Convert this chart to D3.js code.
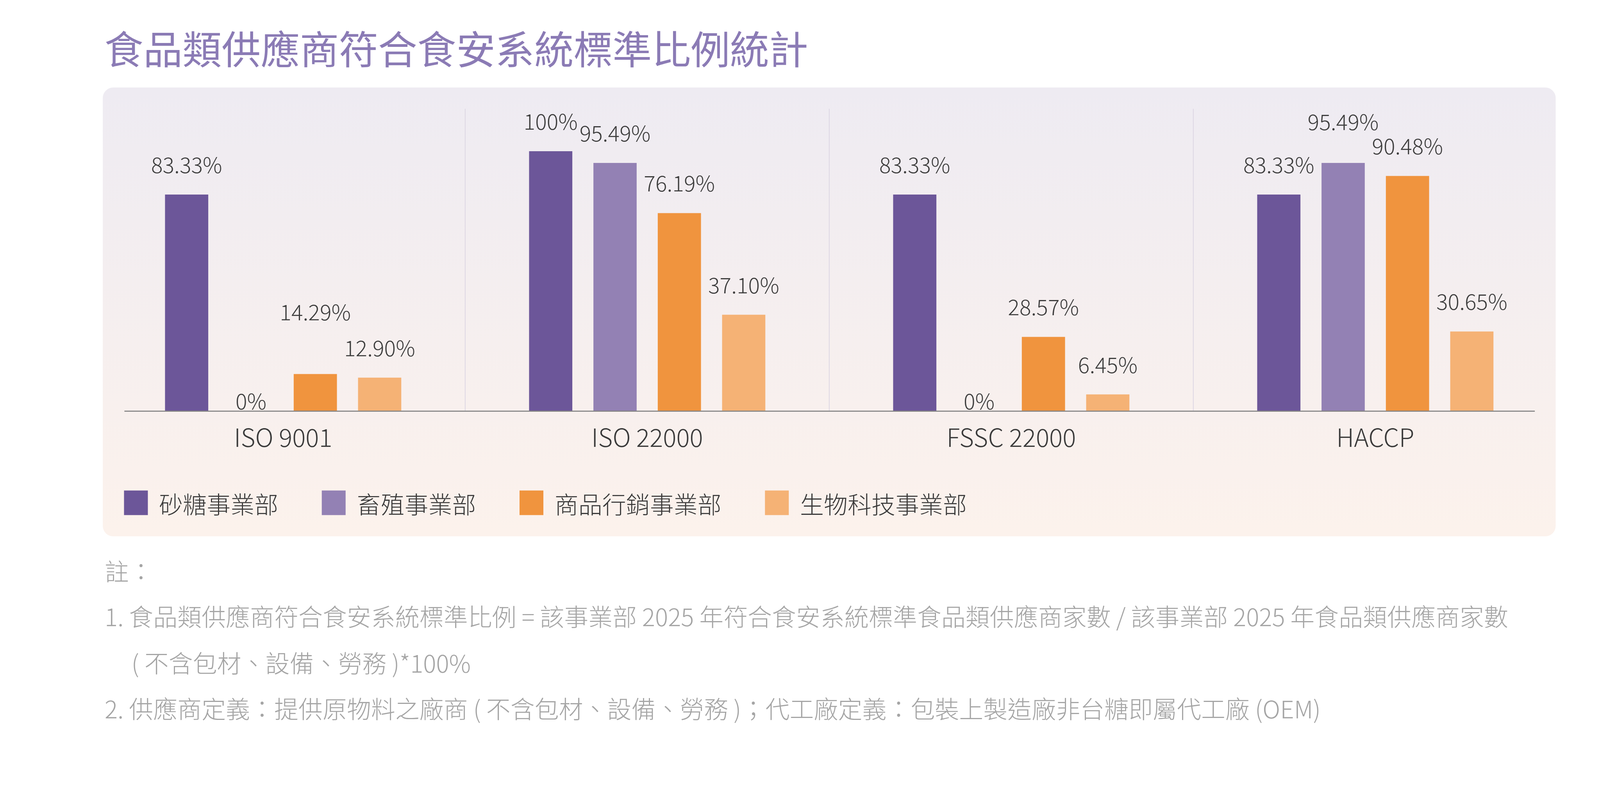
<!DOCTYPE html>
<html><head><meta charset="utf-8">
<script src="https://cdn.jsdelivr.net/npm/d3@7/dist/d3.min.js"></script>
<style>
html,body{margin:0;padding:0;background:#fff;width:100%;height:100%;overflow:hidden;}
svg{display:block;width:100vw;height:100vh;}
</style></head>
<body>
<script>
// ---- data ----
const categories = ["ISO 9001", "ISO 22000", "FSSC 22000", "HACCP"];
const seriesNames = ["砂糖事業部", "畜殖事業部", "商品行銷事業部", "生物科技事業部"];
const sugarValues = [83.33, 100, 83.33, 83.33];
const livestockValues = [0, 95.49, 0, 95.49];
const marketingValues = [14.29, 76.19, 28.57, 90.48];
const biotechValues = [12.90, 37.10, 6.45, 30.65];
const valueLabels = [
  ["83.33%", "100%", "83.33%", "83.33%"],
  ["0%", "95.49%", "0%", "95.49%"],
  ["14.29%", "76.19%", "28.57%", "90.48%"],
  ["12.90%", "37.10%", "6.45%", "30.65%"]
];
const titleText = "食品類供應商符合食安系統標準比例統計";
const noteLines = [
  "註：",
  "1. 食品類供應商符合食安系統標準比例 = 該事業部 2025 年符合食安系統標準食品類供應商家數 / 該事業部 2025 年食品類供應商家數",
  "( 不含包材、設備、勞務 )*100%",
  "2. 供應商定義：提供原物料之廠商 ( 不含包材、設備、勞務 )；代工廠定義：包裝上製造廠非台糖即屬代工廠 (OEM)"
];

// ---- style / layout ----
const seriesValues = [sugarValues, livestockValues, marketingValues, biotechValues];
const colors = ["#6c5699", "#9381b4", "#f0943e", "#f5b275"];
const W = 4296, H = 2048;
const FONT = "'Noto Sans CJK TC','Noto Sans CJK SC','Noto Sans',sans-serif";
// label lift above bar top (px); special cases to avoid overlaps
const defaultLift = 83;
const zeroLift = 30;
const liftOverride = {"0|2": 169, "3|1": 113}; // "category|series"

const svg = d3.select("body").append("svg")
  .attr("viewBox", `0 0 ${W} ${H}`)
  .attr("preserveAspectRatio", "xMinYMin meet");
svg.append("rect").attr("width", W).attr("height", H).attr("fill", "#fff");

const defs = svg.append("defs");
const grad = defs.append("linearGradient").attr("id", "panelGrad")
  .attr("x1", 0).attr("y1", 0).attr("x2", 0).attr("y2", 1);
grad.append("stop").attr("offset", "0%").attr("stop-color", "#eeebf2");
grad.append("stop").attr("offset", "100%").attr("stop-color", "#fcf2ec");

// title
svg.append("text").attr("x", 280).attr("y", 126)
  .attr("dominant-baseline", "central")
  .attr("font-family", FONT).attr("font-size", 105).attr("font-weight", 400)
  .attr("fill", "#8b7bb5").text(titleText);

// panel
svg.append("rect").attr("x", 276).attr("y", 235).attr("width", 3901).attr("height", 1205)
  .attr("rx", 28).attr("fill", "url(#panelGrad)");

// scales
const x0 = d3.scaleBand().domain(categories).range([271.5, 4181.5]).paddingInner(0).paddingOuter(0);
const bw = x0.bandwidth();
const span = 691;
const x1 = d3.scaleBand().domain(d3.range(seriesNames.length))
  .range([(bw - span) / 2, (bw + span) / 2]).paddingInner(0.328).paddingOuter(0.164);
const y = d3.scaleLinear().domain([0, 100]).range([1104, 406]);

// separators
svg.append("g").selectAll("line").data(categories.slice(1)).join("line")
  .attr("x1", d => x0(d)).attr("x2", d => x0(d))
  .attr("y1", 292).attr("y2", y(0))
  .attr("stroke", "#dcd6e3").attr("stroke-width", 2);

// bars
const groups = svg.append("g").selectAll("g").data(categories).join("g")
  .attr("transform", d => `translate(${x0(d)},0)`);

groups.selectAll("rect").data((c, ci) => seriesValues.map((vals, si) => ({ci, si, v: vals[ci]})))
  .join("rect")
  .attr("x", d => x1(d.si)).attr("width", x1.bandwidth())
  .attr("y", d => y(d.v)).attr("height", d => y(0) - y(d.v))
  .attr("fill", d => colors[d.si]);

groups.selectAll("text").data((c, ci) => seriesValues.map((vals, si) => ({ci, si, v: vals[ci]})))
  .join("text")
  .attr("x", d => x1(d.si) + x1.bandwidth() / 2)
  .attr("y", d => {
    const key = d.ci + "|" + d.si;
    const lift = liftOverride[key] !== undefined ? liftOverride[key] : (d.v === 0 ? zeroLift : defaultLift);
    return y(d.v) - lift;
  })
  .attr("text-anchor", "middle").attr("dominant-baseline", "central")
  .attr("font-family", FONT).attr("font-size", 58).attr("font-weight", 300)
  .attr("fill", "#3d3d3d")
  .text(d => valueLabels[d.si][d.ci]);

// x axis
const axis = svg.append("g").attr("transform", `translate(0,${y(0)})`)
  .call(d3.axisBottom(x0).tickSize(0).tickPadding(0));
axis.select(".domain").remove();
axis.selectAll("text")
  .attr("y", 66).attr("dy", null).attr("dominant-baseline", "central")
  .attr("font-family", FONT).attr("font-size", 67).attr("font-weight", 300)
  .attr("fill", "#3a3a3a");
svg.append("line").attr("x1", 334).attr("x2", 4121).attr("y1", y(0)).attr("y2", y(0))
  .attr("stroke", "#858585").attr("stroke-width", 3);

// legend
const legend = svg.append("g");
let lx = 333;
seriesNames.forEach((name, i) => {
  legend.append("rect").attr("x", lx).attr("y", 1317).attr("width", 64).attr("height", 66)
    .attr("fill", colors[i]);
  const t = legend.append("text").attr("x", lx + 94).attr("y", 1351)
    .attr("dominant-baseline", "central")
    .attr("font-family", FONT).attr("font-size", 64).attr("font-weight", 300)
    .attr("fill", "#3a3a3a").text(name);
  lx = lx + 94 + t.node().getComputedTextLength() + 117;
});

// notes
const noteY = [1531, 1653, 1778, 1900];
const noteX = [281, 281, 353, 281];
svg.append("g").selectAll("text").data(noteLines).join("text")
  .attr("x", (d, i) => noteX[i]).attr("y", (d, i) => noteY[i])
  .attr("dominant-baseline", "central")
  .attr("font-family", FONT).attr("font-size", 65).attr("font-weight", 300)
  .attr("fill", "#a5a5a5").text(d => d);
</script>
</body></html>
